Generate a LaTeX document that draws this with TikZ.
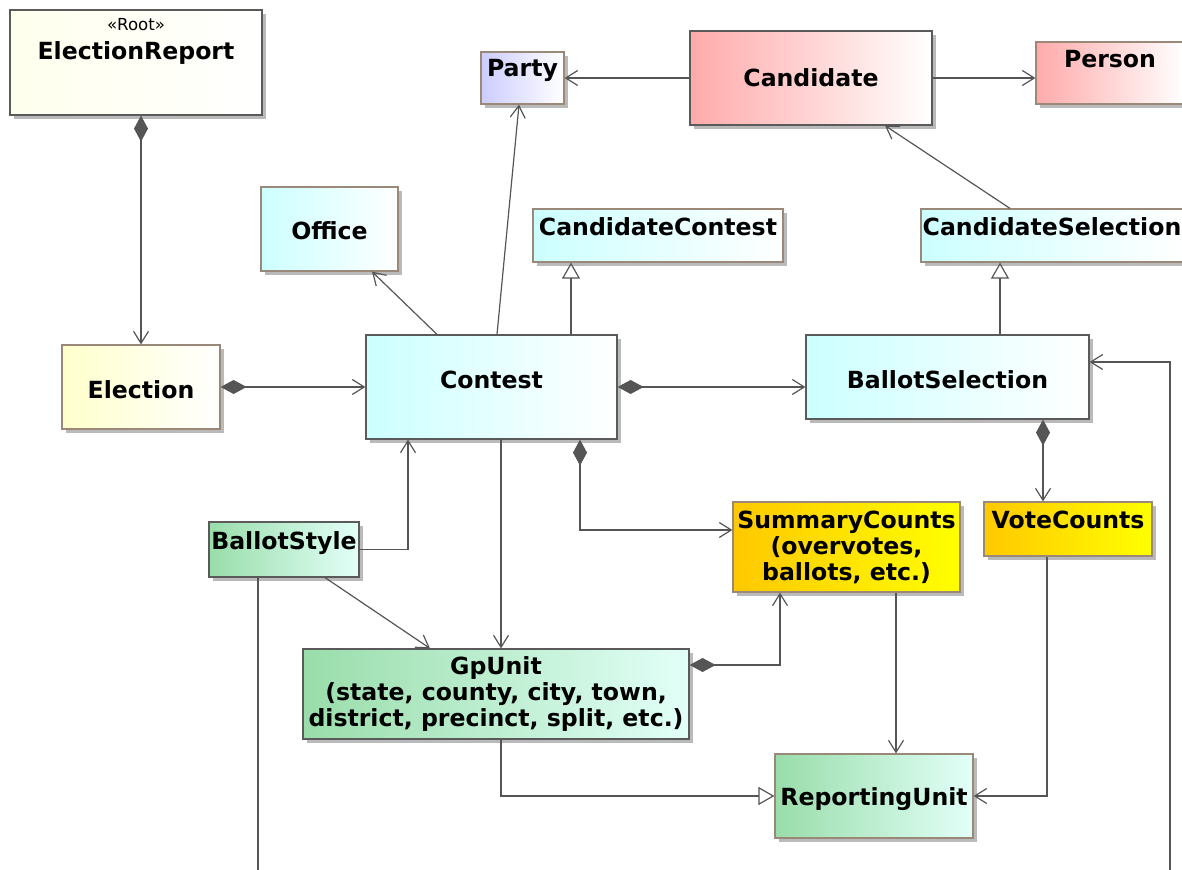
\documentclass[tikz,border=0pt]{standalone}
\usepackage{fontspec}
\setmainfont{DejaVu Sans}
\usetikzlibrary{arrows.meta}
\usetikzlibrary{shadows}
\definecolor{linec}{HTML}{555555}
\definecolor{tanc}{HTML}{9A8878}
\definecolor{grayc}{HTML}{5A5A5A}
\definecolor{cyanl}{HTML}{CCFFFF}
\definecolor{yell}{HTML}{FFFFCC}
\definecolor{pinkl}{HTML}{FFAAAA}
\definecolor{lavl}{HTML}{CCCCFF}
\definecolor{greenl}{HTML}{99DDAA}
\definecolor{greenr}{HTML}{E2FFF8}
\definecolor{orgl}{HTML}{FFC800}
\definecolor{orgr}{HTML}{FFFF00}
\tikzset{
    box/.style = {rectangle, draw=tanc, line width=0.6pt, inner sep=0pt, align=center,
        font=\bfseries\fontsize{11.8}{13}\selectfont,
        drop shadow={shadow xshift=2pt, shadow yshift=-2pt, fill=black!45, opacity=0.6}},
    boxc/.style = {box, left color=cyanl, right color=white},
    boxy/.style = {box, left color=yell, right color=white},
    boxr/.style = {box, left color=pinkl, right color=white},
    boxb/.style = {box, left color=lavl, right color=white},
    boxg/.style = {box, left color=greenl, right color=greenr},
    boxo/.style = {box, left color=orgl, right color=orgr},
    title/.style = {anchor=north, inner sep=0pt, font=\bfseries\fontsize{11.8}{13}\selectfont},
    stereo/.style = {anchor=north, inner sep=0pt, font=\fontsize{8.3}{10}\selectfont},
    edgep/.style = {line width=0.6pt, linec},
    edgea/.style = {edgep, -{Straight Barb[length=6pt,width=7.5pt]}},
    edged/.style = {edgep, {Diamond[length=13pt,width=7pt]}-{Straight Barb[length=6pt,width=7.5pt]}},
    edget/.style = {edgep, -{Triangle[open,length=8pt,width=9pt,fill=white]}}
}
\begin{document}
\begin{tikzpicture}[x=0.5pt, y=-0.5pt]
\useasboundingbox (0, 0) rectangle (1182, 870);
%
\node[boxy, left color=yell!35, draw=grayc, minimum width=126pt, minimum height=52.5pt,
  label={[stereo, yshift=-4.5pt]north:«Root»},
  label={[title, yshift=-16pt]north:ElectionReport}] at (136, 62.5) (er) {};
\node[boxb, minimum width=41.5pt, minimum height=26pt,
  label={[title, yshift=-4pt]north:Party}] at (522.5, 78) (party) {};
\node[boxr, draw=grayc, minimum width=121pt, minimum height=47pt] at (811, 78) (cand) {Candidate};
\node[boxr, minimum width=74pt, minimum height=31pt,
  label={[title, yshift=-4.5pt]north:Person}] at (1110, 73) (person) {};
\node[boxc, minimum width=68.5pt, minimum height=42pt, text height=11pt] at (329.5, 229) (office) {Office};
\node[boxc, minimum width=125pt, minimum height=26.5pt,
  label={[title, yshift=-4.5pt]north:CandidateContest}] at (658, 235.5) (cc) {};
\node[boxc, minimum width=131pt, minimum height=26.5pt,
  label={[title, yshift=-4.5pt]north:CandidateSelection}] at (1052, 235.5) (cs) {};
\node[boxy, minimum width=79pt, minimum height=42pt, text height=11.5pt] at (141, 387) (election) {Election};
\node[boxc, draw=grayc, minimum width=125.5pt, minimum height=52pt, text depth=7pt] at (491.5, 387) (contest) {Contest};
\node[boxc, draw=grayc, minimum width=141.5pt, minimum height=42pt, text height=11.5pt] at (947.5, 377) (bsel) {BallotSelection};
\node[boxg, draw=grayc, minimum width=75pt, minimum height=27.5pt,
  label={[title, yshift=-5pt]north:BallotStyle}] at (284, 549.5) (bstyle) {};
\node[boxo, minimum width=113.5pt, minimum height=45pt] at (846.5, 547) (sc) {SummaryCounts\\(overvotes,\\ballots, etc.)};
\node[boxo, minimum width=84pt, minimum height=27pt,
  label={[title, yshift=-4.5pt]north:VoteCounts}] at (1068, 529) (vc) {};
\node[boxg, draw=grayc, minimum width=193pt, minimum height=45pt] at (496, 694) (gp) {GpUnit\\(state, county, city, town,\\district, precinct, split, etc.)};
\node[boxg, minimum width=99pt, minimum height=42pt, text height=12pt] at (874, 796) (ru) {ReportingUnit};
%
\coordinate (loosea) at (258, 872);
\coordinate (looseb) at (1170, 872);
%
\draw[edged] (er.south -| election.north) -- (election.north);
\draw[edged] (election) -- (contest);
\draw[edged] (contest.east |- 0, 387) -- (bsel.west |- 0, 387);
\draw[edgea] ([xshift=-27.25pt]contest.north) -- ([xshift=21.25pt]office.south);
\draw[edgea] ([xshift=2.75pt]contest.north) -- ([xshift=-1.75pt]party.south);
\draw[edget] ([xshift=39.75pt]contest.north) -- ([xshift=39.75pt]contest.north |- cc.south);
\draw[edgea] (cand) edge (party);
\draw[edgea] (cand.east |- 0, 78) -- (person.west |- 0, 78);
\draw[edgea] ([xshift=-21pt]cs.north) -- ([xshift=37pt]cand.south);
\draw[edget] ([xshift=26.25pt]bsel.north) -- ([xshift=26.25pt]bsel.north |- cs.south);
\draw[edged] ([xshift=47.75pt]bsel.south) -- ([xshift=47.75pt]bsel.south |- vc.north);
\draw[edged] ([xshift=44.25pt]contest.south) |- ([yshift=8.5pt]sc.west);
\draw[edgea] (bstyle.east) -| ([xshift=-41.75pt]contest.south);
\draw[edgea] ([xshift=4.75pt]contest.south) -- ([xshift=4.75pt]contest.south |- gp.north);
\draw[edgea] ([xshift=20.5pt]bstyle.south) -- ([xshift=-33pt]gp.north);
\draw[edgep] ([xshift=-13pt]bstyle.south) -- ([xshift=-13pt]bstyle.south |- loosea);
\draw[edged] ([yshift=14.5pt]gp.east) -| ([xshift=-33.25pt]sc.south);
\draw[edgea] ([xshift=24.75pt]sc.south) -- ([xshift=24.75pt]sc.south |- ru.north);
\draw[edgea] ([xshift=-10.5pt]vc.south) |- (ru.east);
\draw[edget] ([xshift=2.5pt]gp.south) |- (ru.west);
\draw[edgea] (looseb) |- ([yshift=7.5pt]bsel.east);

\end{tikzpicture}
\end{document}
